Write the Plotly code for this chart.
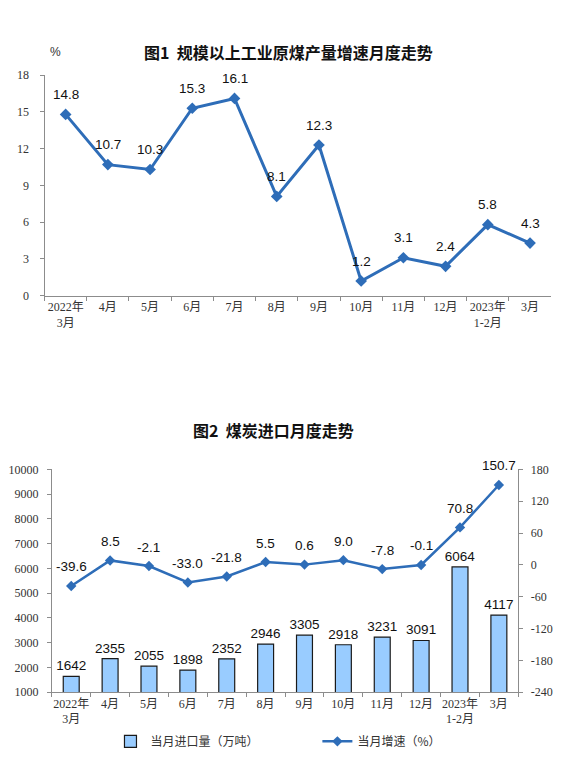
import plotly.graph_objects as go

'Datos'

meses = ["2022年<br>3月", "4月", "5月", "6月", "7月", "8月", "9月",
         "10月", "11月", "12月", "2023年<br>1-2月", "3月"]

# Fig 1: crecimiento de la produccion de carbon (%)
prod_crec = [14.8, 10.7, 10.3, 15.3, 16.1, 8.1, 12.3, 1.2, 3.1, 2.4, 5.8, 4.3]

# Fig 2: importaciones de carbon
imp_vol = [1642, 2355, 2055, 1898, 2352, 2946, 3305, 2918, 3231, 3091, 6064, 4117]
imp_crec = [-39.6, 8.5, -2.1, -33.0, -21.8, 5.5, 0.6, 9.0, -7.8, -0.1, 70.8, 150.7]

ticks_izq = [1000, 2000, 3000, 4000, 5000, 6000, 7000, 8000, 9000, 10000]
ticks_der = [-240, -180, -120, -60, 0, 60, 120, 180]
ticks_fig1 = [0, 3, 6, 9, 12, 15, 18]

azul = "#2E6DB8"
gris = "#8C8C8C"
f_tick = dict(family="Liberation Serif, Noto Sans CJK SC", size=12, color="#333333")
f_num = dict(family="Liberation Sans, Arial", size=13.5, color="#111111")
f_tit = dict(family="Noto Sans CJK SC", size=16, color="#111111", weight="bold")

# la pagina tiene margen de 8px en el body, asi que la figura es un poco mas chica
OFF = 8
W, H = 578 - OFF, 766 - OFF


def px(x):
    return (x - OFF) / W


def py(y):
    return 1 - (y - OFF) / H


fig = go.Figure()

# Grafico 1
fig.add_trace(go.Scatter(x=meses, y=prod_crec, mode="lines+markers",
                         line=dict(color=azul, width=3),
                         marker=dict(symbol="diamond", size=9, color=azul),
                         xaxis="x", yaxis="y", showlegend=False))

# Grafico 2
fig.add_trace(go.Bar(x=meses, y=imp_vol, name="当月进口量（万吨）",
                     marker=dict(color="#99CCFF", line=dict(color="#1A1A1A", width=1.2)),
                     text=[str(v) for v in imp_vol], textposition="outside",
                     textfont=f_num, cliponaxis=False, constraintext="none",
                     xaxis="x2", yaxis="y2", legend="legend"))
fig.add_trace(go.Scatter(x=meses, y=imp_crec, mode="lines+markers", name="当月增速（%）",
                         line=dict(color=azul, width=2.5),
                         marker=dict(symbol="diamond", size=8, color=azul),
                         xaxis="x2", yaxis="y3", legend="legend2"))

# etiquetas de valores
anots = []
for m, v in zip(meses, prod_crec):
    anots.append(dict(x=m, y=v, xref="x", yref="y", text=f"{v:.1f}", showarrow=False,
                      yshift=20, font=f_num))
for m, v in zip(meses, imp_crec):
    anots.append(dict(x=m, y=v, xref="x2", yref="y3", text=f"{v:.1f}", showarrow=False,
                      yshift=19, font=f_num))

# titulos
anots.append(dict(x=px(287), y=py(46), xref="paper", yref="paper", showarrow=False,
                  yanchor="middle", text="图1  规模以上工业原煤产量增速月度走势", font=f_tit))
anots.append(dict(x=px(45), y=py(46), xref="paper", yref="paper", showarrow=False,
                  yanchor="middle", text="%",
                  font=dict(family="Liberation Sans", size=12, color="#333333")))
anots.append(dict(x=px(272), y=py(431), xref="paper", yref="paper", showarrow=False,
                  yanchor="middle", text="图2  煤炭进口月度走势", font=f_tit))

eje = dict(showline=True, linecolor=gris, linewidth=1, showgrid=False, zeroline=False,
           ticks="outside", tickcolor=gris, ticklen=4, tickfont=f_tick)
f_leg = dict(family="Noto Sans CJK SC", size=12, color="#333333")

fig.update_layout(
    width=W, height=H,
    margin=dict(l=0, r=0, t=0, b=0),
    paper_bgcolor="white", plot_bgcolor="white",
    bargap=0.59,
    annotations=anots,
    xaxis=dict(eje, domain=[px(41.7), px(551)], anchor="y", type="category",
               range=[-0.5, len(meses) - 0.5],
               tickson="boundaries", tickangle=0),
    yaxis=dict(eje, domain=[py(294), py(69.3)], anchor="x", range=[0, 18],
               tickvals=ticks_fig1, ticklabelstandoff=8),
    xaxis2=dict(eje, domain=[px(49), px(518)], anchor="y2", type="category",
                range=[-0.5, len(meses) - 0.5],
                tickson="boundaries", tickangle=0),
    yaxis2=dict(eje, domain=[py(698), py(471)], anchor="x2", range=[1000, 10000],
                tickvals=ticks_izq, ticktext=[str(t) for t in ticks_izq],
                ticklabelstandoff=6),
    yaxis3=dict(eje, overlaying="y2", side="right", anchor="x2", range=[-240, 180],
                tickvals=ticks_der, ticktext=[str(t) for t in ticks_der],
                ticklabelstandoff=5),
    legend=dict(orientation="h", x=px(108), y=py(748), xanchor="left", yanchor="middle",
                font=f_leg),
    legend2=dict(orientation="h", x=px(316), y=py(748), xanchor="left", yanchor="middle",
                 font=f_leg),
)

fig.write_html("out.html")
